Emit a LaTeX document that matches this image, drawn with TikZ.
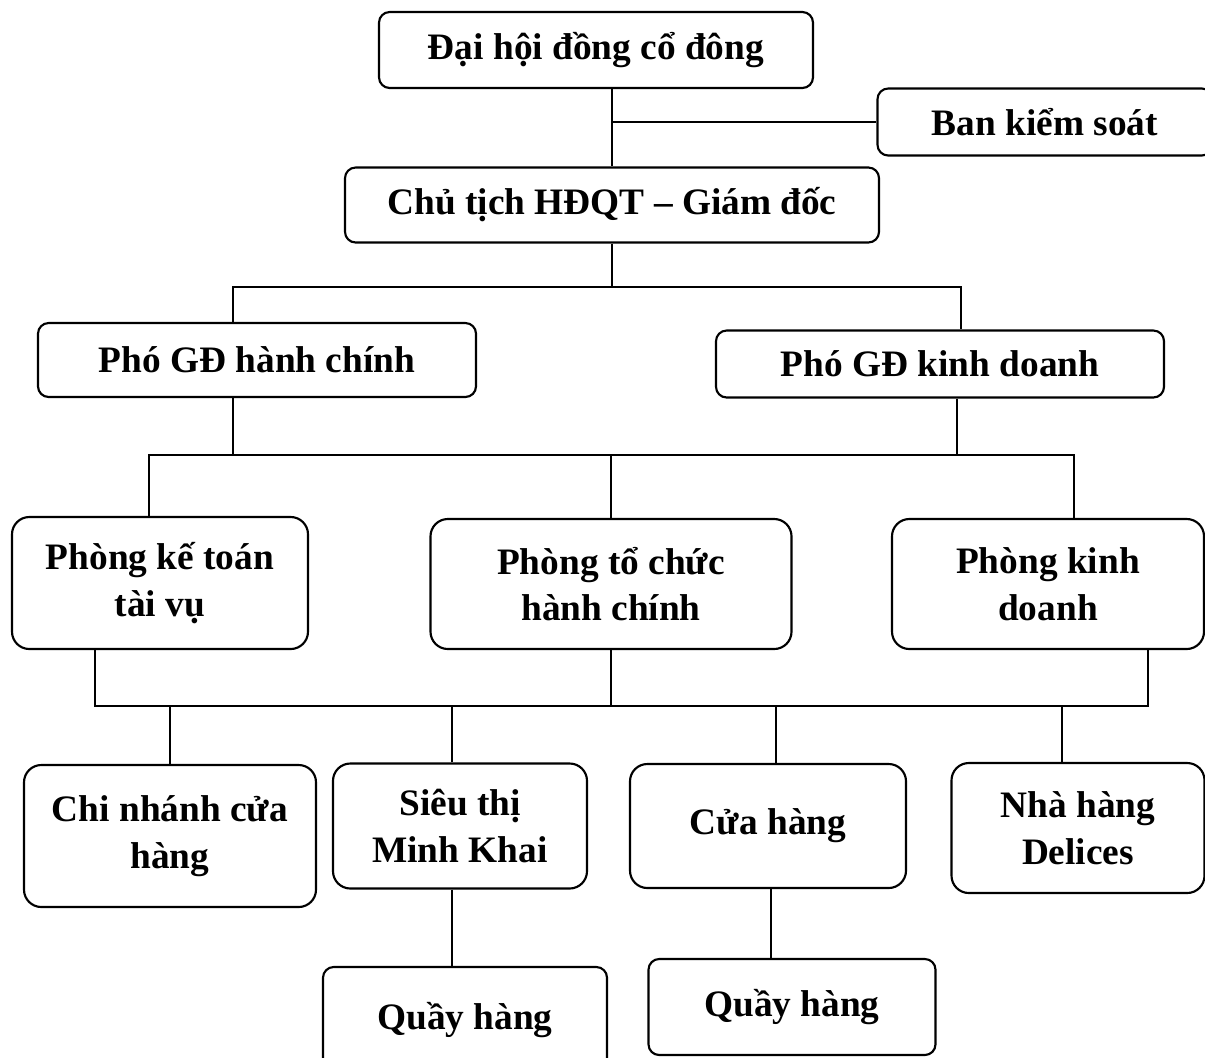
\documentclass[tikz,border=0pt]{standalone}
\usepackage{fontspec}
\setmainfont{Liberation Serif}
\usepackage{tikz}

\begin{document}
\begin{tikzpicture}[x=0.75pt,y=-0.75pt,
  unit/.style={draw,line width=1.6pt,rounded corners=8pt,align=center,inner sep=0pt,
    font=\fontsize{28}{35}\selectfont\bfseries},
  tall/.style={unit,rounded corners=13pt},
  wh/.style 2 args={minimum width=#1*0.75pt,minimum height=#2*0.75pt},
  link/.style={line width=1.4pt}]
  \useasboundingbox (0,0) rectangle (1205,1057);

  \node[unit,wh={434}{76}] (dh) at (596,50) {Đại hội đồng cổ đông};
  \node[unit,wh={335}{67}] (bk) at (1045,122) {Ban kiểm soát};
  \node[unit,wh={534}{75}] (ct) at (612,205) {Chủ tịch HĐQT – Giám đốc};
  \node[unit,wh={438}{74}] (pgh) at (257,360) {Phó GĐ hành chính};
  \node[unit,wh={448}{67}] (pgk) at (940,364) {Phó GĐ kinh doanh};
  \node[tall,wh={296}{132}] (pkt) at (160,583) {Phòng kế toán\\tài vụ};
  \node[tall,wh={361}{130}] (ptc) at (611,584) {Phòng tổ chức\\hành chính};
  \node[tall,wh={312}{130}] (pkd) at (1048,584) {Phòng kinh\\doanh};
  \node[tall,wh={292}{142}] (cn) at (170,836) {Chi nhánh cửa\\hàng};
  \node[tall,wh={254}{125}] (st) at (460,826) {Siêu thị\\Minh Khai};
  \node[tall,wh={276}{124}] (ch) at (768,826) {Cửa hàng};
  \node[tall,wh={253}{130}] (nh) at (1078,828) {Nhà hàng\\Delices};
  \node[unit,wh={284}{106}] (qh1) at (465,1020) {Quầy hàng};
  \node[unit,wh={287}{96}] (qh2) at (792,1007) {Quầy hàng};

  % bus lines
  \coordinate (b1l) at (233,287);
  \coordinate (b1r) at (961,287);
  \coordinate (b2l) at (149,455);
  \coordinate (b2r) at (1074,455);
  \coordinate (k2) at (957,455);
  \coordinate (b3l) at (95,706);
  \coordinate (b3r) at (1148,706);
  \coordinate (s3) at (452,706);
  \coordinate (c3) at (776,706);
  \coordinate (n3) at (1062,706);
  \coordinate (c4) at (771,900);

  \draw[link] (dh.south -| ct.north) -- (ct.north);
  \draw[link] (ct.north |- bk.west) -- (bk.west);
  \draw[link] (ct.south) -- (ct.south |- b1l);
  \draw[link] (pgh.north -| b1l) -- (b1l) -- (b1r) -- (pgk.north -| b1r);

  \draw[link] (pgh.south -| b1l) -- (b1l |- b2l);
  \draw[link] (pgk.south -| k2) -- (k2);
  \draw[link] (pkt.north -| b2l) -- (b2l) -- (b2r) -- (pkd.north -| b2r);
  \draw[link] (ptc.north |- b2l) -- (ptc.north);

  \draw[link] (pkt.south -| b3l) -- (b3l) -- (b3r) -- (pkd.south -| b3r);
  \draw[link] (ptc.south) -- (ptc.south |- b3l);
  \draw[link] (cn.north |- b3l) -- (cn.north);
  \draw[link] (s3) -- (st.north -| s3);
  \draw[link] (c3) -- (ch.north -| c3);
  \draw[link] (n3) -- (nh.north -| n3);

  \draw[link] (st.south -| s3) -- (qh1.north -| s3);
  \draw[link] (ch.south -| c4) -- (qh2.north -| c4);
\end{tikzpicture}
\end{document}
